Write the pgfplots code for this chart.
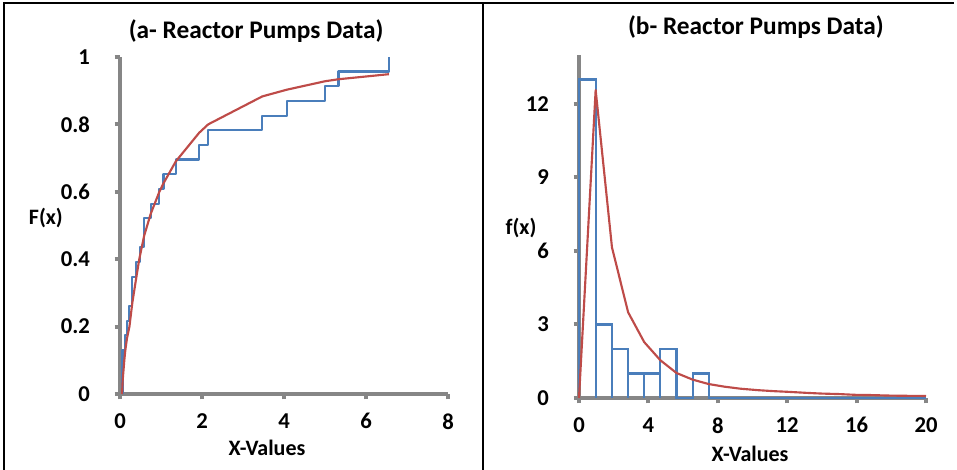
\documentclass[border=0pt]{standalone}
\usepackage{fontspec}
\setmainfont{Carlito}
\usepackage{pgfplots}
\pgfplotsset{compat=1.18}
\definecolor{sblue}{HTML}{4A7EBB}
\definecolor{sred}{HTML}{BE4B48}
\definecolor{axgray}{HTML}{868686}
\pgfplotsset{
  xl/.style={scale only axis, clip=false, axis lines=left,
    axis line style={-, axgray, line width=3pt},
    tick style={axgray, line width=3pt}, tick align=outside, major tick length=4pt,
    /pgf/number format/assume math mode=true,
    tick label style={font=\fontsize{17}{20}\selectfont\bfseries},
    xticklabel style={yshift=-7pt}, yticklabel style={xshift=-15pt},
    label style={font=\fontsize{16.5}{19}\selectfont\bfseries},
    title style={font=\fontsize{19}{22}\selectfont\bfseries, anchor=center},
    every axis plot/.append style={line width=1.6pt, line join=round, mark=none}},
}
\begin{document}
\begin{tikzpicture}
\path[use as bounding box] (0,0) rectangle (717.75pt,352.5pt);
% frame
\draw[black, line width=1.5pt] (3pt,0) -- (3pt,349.9pt) -- (715.5pt,349.9pt);
\draw[black, line width=1.5pt] (362.6pt,0) -- (362.6pt,349.9pt);

\begin{axis}[xl, at={(90pt,57pt)}, anchor=south west, width=246pt, height=252.75pt,
  xmin=0, xmax=8, ymin=0, ymax=1, xtick={0,2,...,8}, ytick={0,0.2,0.4,0.6,0.8,1},
  title={(a- Reactor Pumps Data)}, title style={at={(axis description cs:0.415,1.053)}},
  xlabel={X-Values}, xlabel style={at={(axis description cs:0.448,-0.16)}, anchor=center},
  ylabel={F(x)}, ylabel style={at={(axis description cs:-0.226,0.522)}, rotate=-90, anchor=center}]
\addplot[sblue, const plot] coordinates {
  (0.06,0) (0.06,0.130) (0.13,0.174) (0.17,0.217) (0.21,0.261) (0.30,0.348)
  (0.39,0.391) (0.48,0.435) (0.59,0.522) (0.75,0.565) (0.96,0.609) (1.06,0.652)
  (1.36,0.696) (1.93,0.739) (2.15,0.783) (3.47,0.826) (4.07,0.870) (5.00,0.913)
  (5.33,0.957) (6.56,1.0)};
\addplot[sred] coordinates {
  (0.05,0) (0.065,0.04) (0.105,0.10) (0.13,0.13) (0.17,0.165) (0.23,0.20)
  (0.30,0.27) (0.39,0.34) (0.47,0.40) (0.59,0.47) (0.75,0.535) (0.96,0.60)
  (1.06,0.625) (1.36,0.69) (1.93,0.775) (2.15,0.80) (3.47,0.883) (4.07,0.903)
  (5.00,0.928) (5.33,0.934) (6.56,0.949)};
\end{axis}

\begin{axis}[xl, at={(434.25pt,54pt)}, anchor=south west, width=260.25pt, height=257.25pt,
  xmin=0, xmax=20, ymin=0, ymax=14, xtick={0,4,...,20}, ytick={0,3,...,12},
  title={(b- Reactor Pumps Data)}, title style={at={(axis description cs:0.51,1.058)}},
  xlabel={X-Values}, xlabel style={at={(axis description cs:0.493,-0.163)}, anchor=center},
  ylabel={f(x)}, ylabel style={at={(axis description cs:-0.167,0.496)}, rotate=-90, anchor=center}]
\addplot[sblue, line join=miter] coordinates {
  (0,0) (0,13) (0.96,13) (0.96,0) (0.96,3) (1.90,3) (1.90,0) (1.90,2) (2.83,2)
  (2.83,0) (2.83,1) (3.76,1) (3.76,0) (3.76,1) (4.69,1) (4.69,0) (4.69,2) (5.62,2)
  (5.62,0) (6.55,0) (6.55,1) (7.47,1) (7.47,0) (20,0)};
\addplot[sred] coordinates {
  (0,0) (0.96,12.57) (1.90,6.15) (2.83,3.5) (3.76,2.28) (4.69,1.54) (5.62,1.02)
  (6.55,0.75) (7.47,0.57) (8.4,0.46) (9.3,0.38) (10.3,0.32) (11.2,0.28) (12.1,0.25)
  (13.1,0.21) (14.0,0.18) (15.0,0.16) (15.9,0.13) (16.8,0.12) (17.8,0.10)
  (18.7,0.09) (19.7,0.085) (20,0.08)};
\end{axis}
\end{tikzpicture}
\end{document}
